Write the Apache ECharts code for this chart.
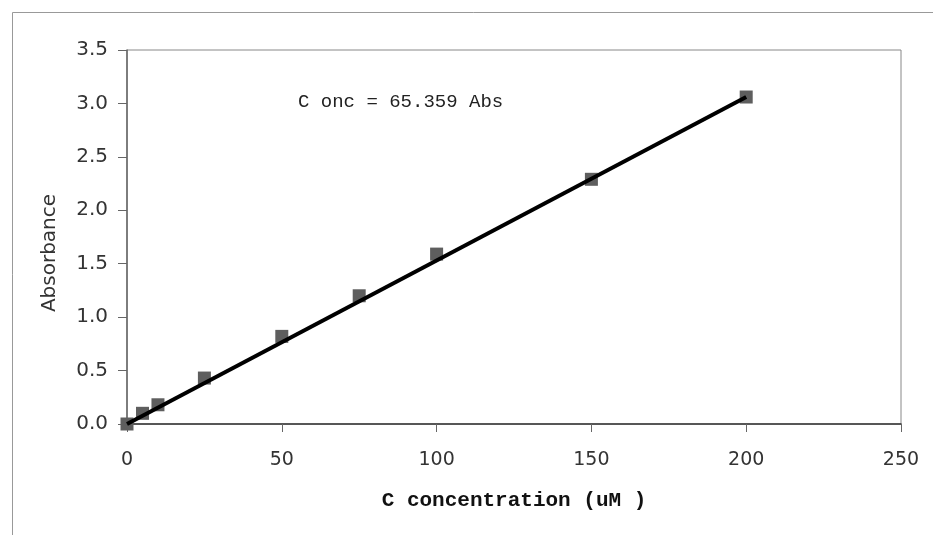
<!DOCTYPE html>
<html>
<head>
<meta charset="utf-8">
<script src="https://cdn.jsdelivr.net/npm/echarts@6/dist/echarts.min.js"></script>
<style>html,body{margin:0;padding:0;background:#fff}#c{width:933px;height:535px}</style>
</head>
<body>
<div id="c"></div>
<script>
// Data
const concentrations = [0, 5, 10, 25, 50, 75, 100, 150, 200];
const absorbance = [0.0, 0.10, 0.18, 0.43, 0.82, 1.20, 1.59, 2.29, 3.06];
const trendX = [0, 200];
const trendY = [0, 3.06];
const xTicks = [0, 50, 100, 150, 200, 250];
const yTicks = [0, 0.5, 1, 1.5, 2, 2.5, 3, 3.5];
const annotation = 'C onc = 65.359 Abs';
const xTitle = 'C concentration (uM )';
const yTitle = 'Absorbance';

const chart = echarts.init(document.getElementById('c'), null, {renderer: 'canvas'});
chart.setOption({
  animation: false,
  backgroundColor: '#fff',
  grid: {left: 127, right: 32, top: 50, bottom: 111, show: true, borderColor: '#888', borderWidth: 1, backgroundColor: 'transparent'},
  xAxis: {
    type: 'value', min: 0, max: 250, interval: 50,
    name: xTitle, nameLocation: 'middle', nameGap: 66,
    nameTextStyle: {fontFamily: 'Liberation Mono', fontWeight: 'bold', fontSize: 21, color: '#111'},
    axisLine: {show: true, lineStyle: {color: '#333', width: 1.5}},
    axisTick: {show: true, length: 8, lineStyle: {color: '#666'}},
    axisLabel: {margin: 27, fontFamily: 'DejaVu Sans', fontSize: 19, color: '#333',
      formatter: v => xTicks.includes(v) ? String(v) : ''},
    splitLine: {show: false}
  },
  yAxis: {
    type: 'value', min: 0, max: 3.5, interval: 0.5,
    axisLine: {show: true, lineStyle: {color: '#666', width: 1.5}},
    axisTick: {show: true, length: 9, lineStyle: {color: '#666'}},
    axisLabel: {margin: 19, fontFamily: 'DejaVu Sans', fontSize: 20, color: '#333',
      formatter: v => yTicks.some(t => Math.abs(t - v) < 1e-9) ? v.toFixed(1) : ''},
    splitLine: {show: false}
  },
  series: [
    {
      type: 'scatter', symbol: 'rect', symbolSize: 13,
      itemStyle: {color: '#5e5e5e', opacity: 1},
      data: concentrations.map((x, i) => [x, absorbance[i]]),
      z: 2
    },
    {
      type: 'line', showSymbol: false, symbol: 'none',
      lineStyle: {color: '#000', width: 4},
      data: trendX.map((x, i) => [x, trendY[i]]),
      z: 3
    }
  ],
  graphic: [
    {type: 'rect', left: 10, top: 10, shape: {width: 1000, height: 1000}, style: {fill: 'none', stroke: '#999', lineWidth: 1}, silent: true, z: -1},
    {type: 'text', left: 298, top: 92, style: {text: annotation, font: '19px "Liberation Mono"', fill: '#222'}},
    {type: 'text', x: 50, y: 253, rotation: Math.PI / 2,
      style: {text: yTitle, font: '20px "DejaVu Sans"', fill: '#333', align: 'center', verticalAlign: 'middle'}}
  ]
});
</script>
</body>
</html>
